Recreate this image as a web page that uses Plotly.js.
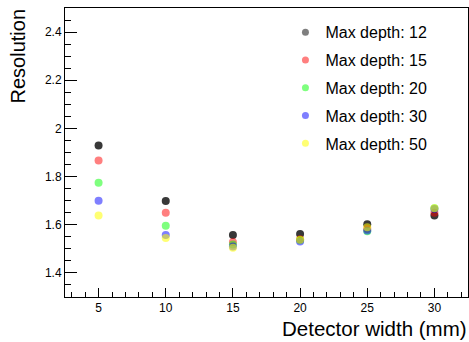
<!DOCTYPE html>
<html>
<head>
<meta charset="utf-8">
<script src="https://cdn.plot.ly/plotly-3.0.1.min.js"></script>
<style>html,body{margin:0;padding:0;background:#fff;}#chart{width:469px;height:342px;}</style>
</head>
<body>
<div id="chart"></div>
<script>
var widths = [5, 10, 15, 20, 25, 30];
var seriesNames = ["Max depth: 12", "Max depth: 15", "Max depth: 20", "Max depth: 30", "Max depth: 50"];
var depth12 = [1.929, 1.699, 1.557, 1.562, 1.602, 1.638];
var depth15 = [1.867, 1.650, 1.528, 1.540, 1.582, 1.650];
var depth20 = [1.774, 1.596, 1.518, 1.536, 1.573, 1.668];
var depth30 = [1.700, 1.557, 1.510, 1.530, 1.576, 1.665];
var depth50 = [1.638, 1.545, 1.504, 1.538, 1.590, 1.668];
var seriesValues = [depth12, depth15, depth20, depth30, depth50];
var pointColors = ["rgba(0,0,0,0.78)", "rgba(255,0,0,0.5)", "rgba(0,255,0,0.5)", "rgba(0,0,255,0.5)", "rgba(255,255,0,0.55)"];
var legendColors = ["rgba(0,0,0,0.5)", "rgba(255,0,0,0.5)", "rgba(0,255,0,0.5)", "rgba(0,0,255,0.5)", "rgba(255,255,0,0.55)"];
var xTicks = [5, 10, 15, 20, 25, 30];
var yTicks = [1.4, 1.6, 1.8, 2, 2.2, 2.4];

var FONT = "Liberation Sans, Arial, sans-serif";
var traces = [];
for (var i = 0; i < seriesNames.length; i++) {
  traces.push({
    type: "scatter", mode: "markers", x: widths, y: seriesValues[i],
    marker: {color: pointColors[i], size: 8, line: {width: 0}},
    showlegend: false, hoverinfo: "skip"
  });
}
for (var j = 0; j < seriesNames.length; j++) {
  traces.push({
    type: "scatter", mode: "markers", x: [null], y: [null], name: seriesNames[j],
    marker: {color: legendColors[j], size: 7, line: {width: 0}},
    showlegend: true, legendgroup: "g" + j
  });
}

var layout = {
  width: 469, height: 342,
  margin: {l: 65, r: 1, t: 8, b: 45},
  paper_bgcolor: "#fff", plot_bgcolor: "#fff",
  font: {family: FONT, color: "#000"},
  showlegend: true,
  legend: {x: 0.547, y: 0.975, xanchor: "left", yanchor: "top", bgcolor: "rgba(0,0,0,0)",
           font: {family: FONT, size: 16, color: "#000"}, tracegroupgap: 4, traceorder: "grouped"},
  xaxis: {
    range: [2.5, 32.5], tickvals: xTicks, ticktext: xTicks.map(String),
    ticks: "inside", ticklen: 9, tickwidth: 1, tickcolor: "#000",
    minor: {dtick: 1, tick0: 0, ticks: "inside", ticklen: 5, tickcolor: "#000", tickwidth: 1, showgrid: false},
    showgrid: false, zeroline: false, showline: true, linecolor: "#000", linewidth: 1, mirror: true,
    tickfont: {family: FONT, size: 12, color: "#000"},
    title: {text: ""}
  },
  yaxis: {
    range: [1.3, 2.5], tickvals: yTicks, ticktext: ["1.4", "1.6", "1.8", "2", "2.2", "2.4"],
    ticks: "inside", ticklen: 12, tickwidth: 1, tickcolor: "#000",
    minor: {dtick: 0.05, tick0: 0, ticks: "inside", ticklen: 6, tickcolor: "#000", tickwidth: 1, showgrid: false},
    showgrid: false, zeroline: false, showline: true, linecolor: "#000", linewidth: 1, mirror: true,
    tickfont: {family: FONT, size: 12, color: "#000"},
    title: {text: ""}
  },
  annotations: [
    {text: "Detector width (mm)", xref: "paper", yref: "paper", x: 1, y: 0, xanchor: "right", yanchor: "top",
     yshift: -18, xshift: 1, showarrow: false, font: {family: FONT, size: 20.5, color: "#000"}},
    {text: "Resolution", xref: "paper", yref: "paper", x: 0, y: 1, xanchor: "center", yanchor: "top",
     xshift: -48, yshift: 1, textangle: -90, showarrow: false, font: {family: FONT, size: 20, color: "#000"}}
  ]
};
Plotly.newPlot("chart", traces, layout, {staticPlot: true, displayModeBar: false});
</script>
</body>
</html>
